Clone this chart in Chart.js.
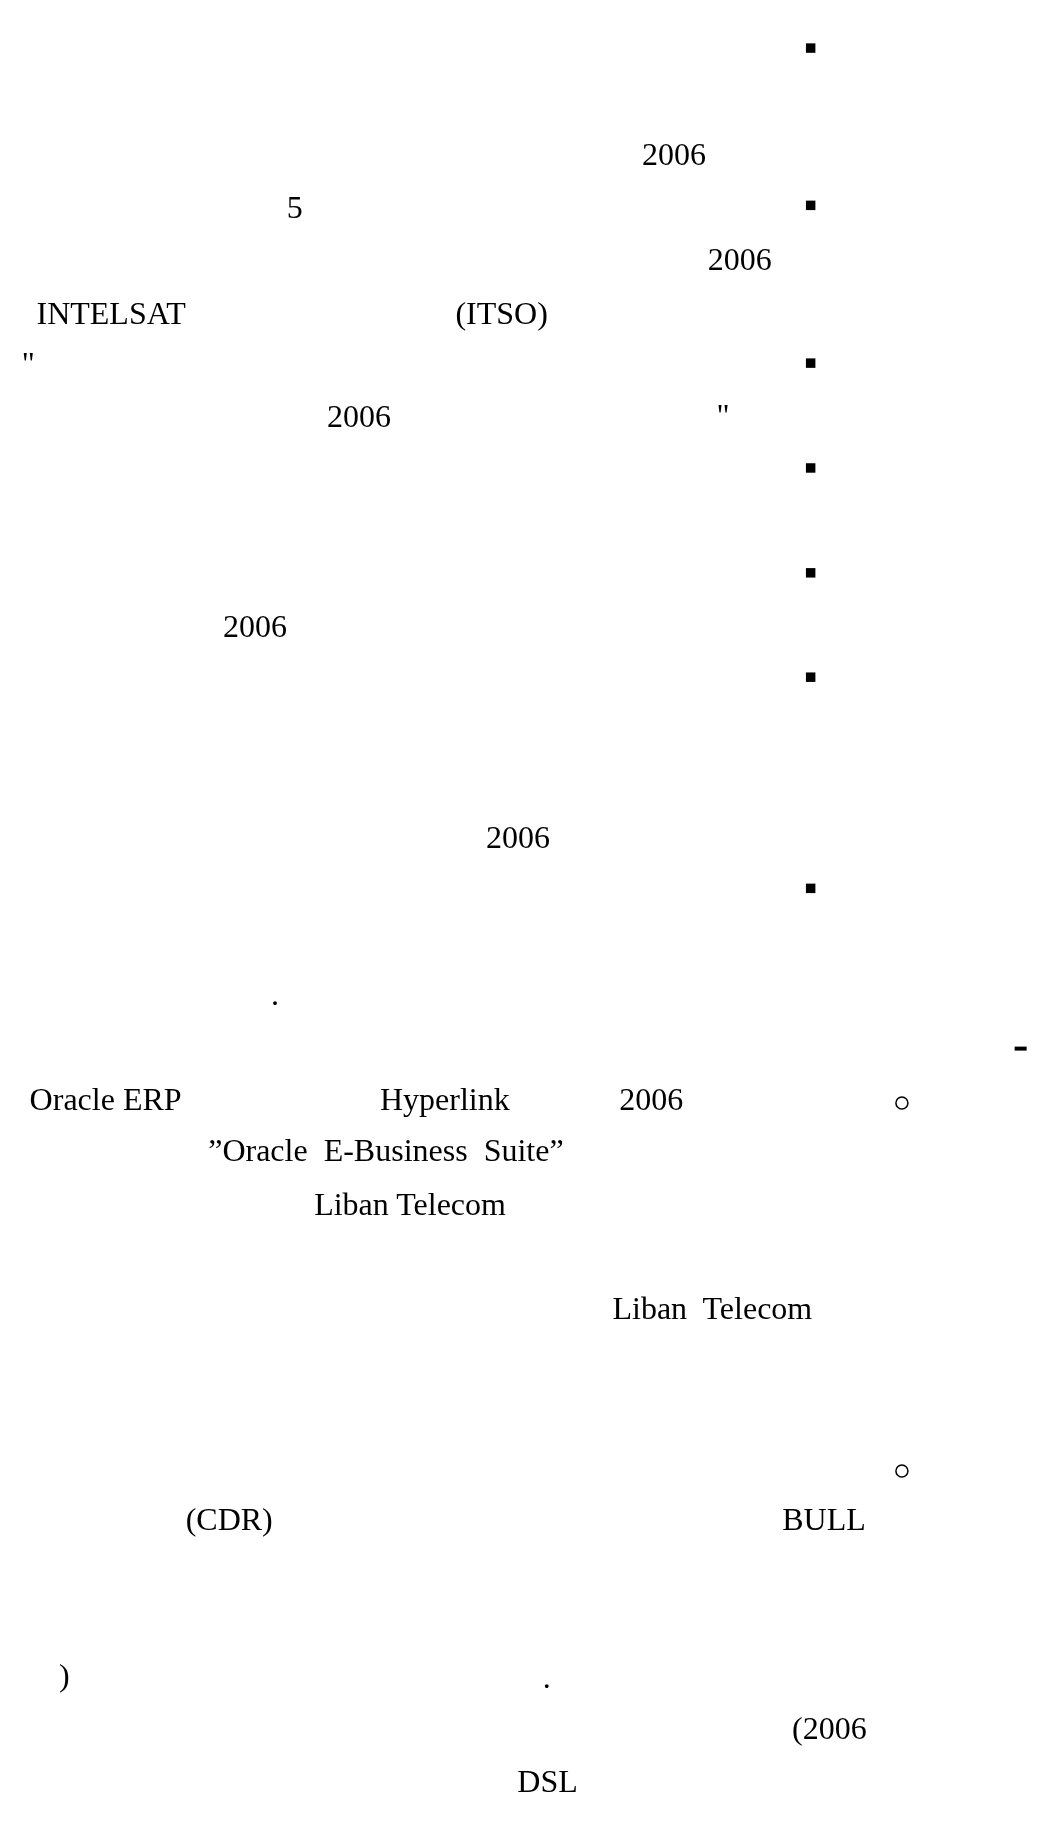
<!DOCTYPE html>
<html>
<head>
<meta charset="utf-8">
<script src="https://cdn.jsdelivr.net/npm/chart.js@4.4.1/dist/chart.umd.min.js"></script>
<style>
  html, body { margin: 0; padding: 0; background: #ffffff; overflow: hidden; }
  #page { position: relative; width: 1064px; height: 1843px; }
  #pageChart { position: absolute; left: 0; top: 0; }
  #textLayer { position: absolute; left: 0; top: 0; width: 1064px; height: 1843px; pointer-events: none; }
  .frag { position: absolute; white-space: pre; color: #000; font-family: 'Liberation Serif', 'Times New Roman', serif; font-size: 32px; }
</style>
</head>
<body>
<div id="page">
  <canvas id="pageChart" width="1064" height="1843"></canvas>
  <div id="textLayer"></div>
</div>
<script>
// page scale (pixels of the scanned page)
const pageWidth = 1064;
const pageHeight = 1843;

// square bullets
const bulletX = [816, 816, 816, 816, 816, 816, 816];
const bulletY = [38.5, 197.5, 357, 463, 569, 674.5, 888];

// hollow sub-bullets
const circleX = [909, 909];
const circleY = [1105, 1477];

// dash marker
const dashX = [1030];
const dashY = [1050];

// text fragments that survived (left edge, baseline)
const textLabels = [
  '2006', '5', '2006', 'INTELSAT', '(ITSO)', '"', '2006', '"',
  '2006', '2006', '.',
  'Oracle ERP', 'Hyperlink', '2006',
  '\u201dOracle  E-Business  Suite\u201d', 'Liban Telecom', 'Liban  Telecom',
  '(CDR)', 'BULL', ')', '.', '(2006', 'DSL'
];
const textX = [
  644, 282, 711, 27, 454, 12, 323, 720,
  217, 485, 266,
  20, 377, 621,
  202, 310, 614,
  179, 787, 50, 543, 797, 517
];
const textY = [
  157, 210, 263, 317, 317, 368, 422, 421,
  634, 847, 1006,
  1112, 1112, 1112,
  1164, 1218, 1323,
  1537, 1537, 1694, 1696, 1748, 1802
];

function toPoints(xs, ys) {
  return xs.map((x, i) => ({ x: x, y: ys[i] }));
}

// places the text fragments through the chart's own scales
const textPlugin = {
  id: 'textPlugin',
  afterRender(chart) {
    const layer = document.getElementById('textLayer');
    if (layer.childElementCount) return;
    const ctx = chart.ctx;
    ctx.save();
    ctx.font = "32px 'Liberation Serif'";
    const m = ctx.measureText('Hg');
    ctx.restore();
    const asc = m.fontBoundingBoxAscent;
    const desc = m.fontBoundingBoxDescent;
    textLabels.forEach((label, i) => {
      const el = document.createElement('div');
      el.className = 'frag';
      el.textContent = label;
      el.style.lineHeight = (asc + desc) + 'px';
      el.style.left = chart.scales.x.getPixelForValue(textX[i]) + 'px';
      el.style.top = (chart.scales.y.getPixelForValue(textY[i]) - asc) + 'px';
      layer.appendChild(el);
    });
  }
};

new Chart(document.getElementById('pageChart'), {
  type: 'scatter',
  data: {
    datasets: [
      {
        label: 'bullets',
        data: toPoints(bulletX, bulletY),
        pointStyle: 'rect',
        pointRadius: 6.7,
        backgroundColor: '#000',
        borderWidth: 0
      },
      {
        label: 'sub bullets',
        data: toPoints(circleX, circleY),
        pointStyle: 'circle',
        pointRadius: 6,
        backgroundColor: 'rgba(0,0,0,0)',
        borderColor: '#000',
        borderWidth: 1.5
      },
      {
        label: 'dash',
        data: toPoints(dashX, dashY),
        pointStyle: 'line',
        pointRadius: 6,
        borderColor: '#000',
        borderWidth: 4
      }
    ]
  },
  options: {
    responsive: false,
    animation: false,
    events: [],
    layout: { padding: 0 },
    plugins: {
      legend: { display: false },
      tooltip: { enabled: false }
    },
    scales: {
      x: { type: 'linear', min: 0, max: pageWidth, display: false },
      y: { type: 'linear', min: 0, max: pageHeight, reverse: true, display: false }
    }
  },
  plugins: [textPlugin]
});
</script>
</body>
</html>
